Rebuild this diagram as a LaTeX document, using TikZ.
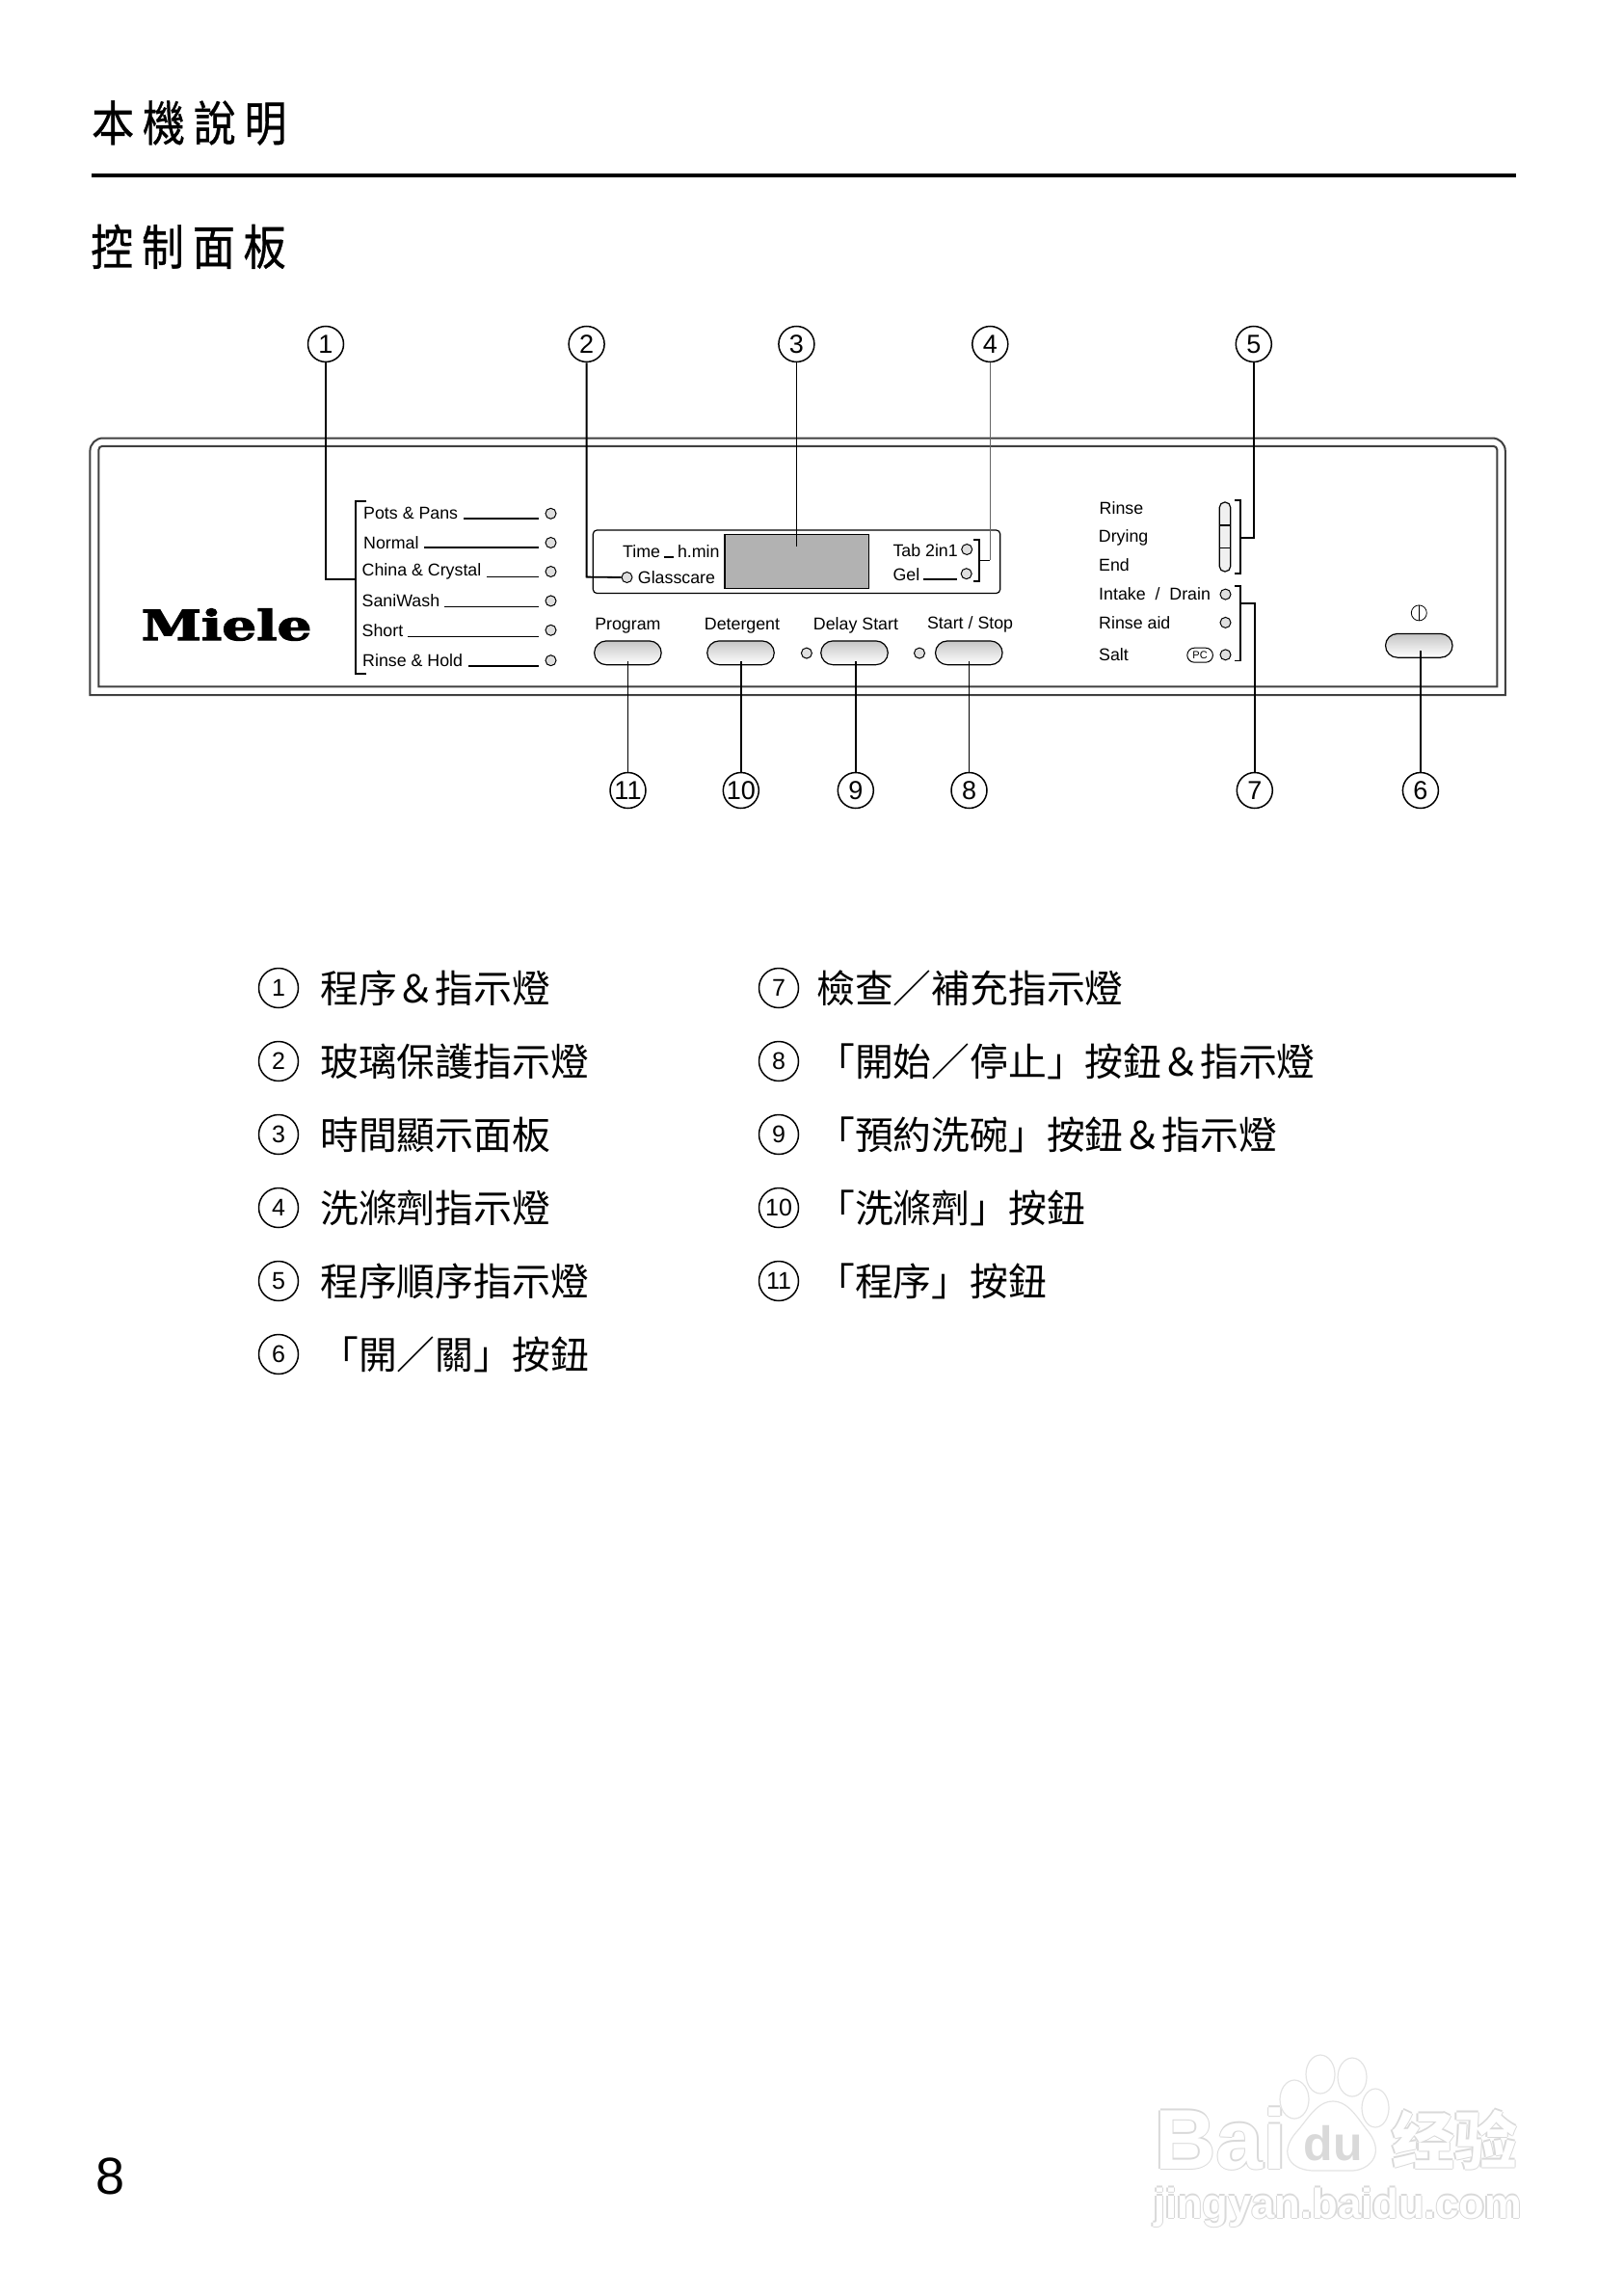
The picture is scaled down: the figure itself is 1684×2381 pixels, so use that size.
\documentclass[tikz,border=0pt]{standalone}
\usepackage{fontspec}
\setmainfont{Liberation Sans}
\newfontfamily\cjk{Noto Sans CJK TC}
\newfontfamily\cjkhead[FakeBold=0.7]{Noto Sans CJK TC}
\newfontfamily\logofont[BoldFeatures={FakeBold=2.5}]{DejaVu Serif}
\usetikzlibrary{arrows.meta,positioning,shapes.geometric,shapes.misc}

\tikzset{
  numcirc/.style={draw, circle, line width=1.5pt, minimum size=37pt, inner sep=0pt, font=\fontsize{27}{27}\selectfont},
  legcirc/.style={draw, circle, line width=1.5pt, minimum size=41pt, inner sep=0pt, font=\fontsize{25}{25}\selectfont},
  legtext/.style={anchor=west, inner sep=0pt, font=\cjk\fontsize{39.8}{40}\selectfont},
  headtext/.style={anchor=west, inner sep=0pt, xscale=0.88, font=\cjkhead\fontsize{50}{50}\selectfont},
  paneltext/.style={anchor=west, inner sep=0pt, font=\fontsize{17.8}{18}\selectfont},
  btntext/.style={inner sep=0pt, font=\fontsize{17.8}{18}\selectfont},
  led/.style={draw, circle, line width=1pt, fill=gray!25, minimum size=11pt, inner sep=0pt},
  btn/.style={draw, rounded rectangle, line width=1.2pt, top color=gray!45, bottom color=white, minimum width=69.5pt, minimum height=24.7pt, inner sep=0pt},
  lead/.style={line width=1.8pt},
  thinlead/.style={line width=0.8pt, black!60},
  rulerow/.style={line width=1.1pt},
  wmline/.style={draw=gray!22, fill=white, line width=1.2pt}
}

\begin{document}
\begin{tikzpicture}[x=1pt, y=-1pt]
  \useasboundingbox (0,0) rectangle (1684,2381);
  % Heading
  \node[headtext] (title) at (95,127.5) {本\kern10pt機\kern10pt說\kern10pt明};
  \coordinate (ruleL) at (95,182);
  \coordinate (ruleR) at (1573,182);
  \draw[line width=4pt] (ruleL) -- (ruleR);
  \node[headtext] (subtitle) at (94,255.8) {控\kern10pt制\kern10pt面\kern10pt板};

  % Panel frame
  \draw[line width=2pt, black!75] (93.4,721) -- (93.4,468) arc[start angle=180, end angle=270, radius=13.5] -- (1548.3,454.5) arc[start angle=270, end angle=360, radius=13.5] -- (1561.8,721) -- cycle;
  \draw[line width=2pt, black!75] (102.3,712.4) -- (102.3,466.8) arc[start angle=180, end angle=270, radius=4] -- (1549.4,462.8) arc[start angle=270, end angle=360, radius=4] -- (1553.4,712.4) -- cycle;
  \node[inner sep=0pt, xscale=1.31, font=\logofont\bfseries\fontsize{43}{43}\selectfont] (logo) at (235,648) {Miele};

  % Program list
  \foreach \nm/\txt/\tx/\yy/\xs/\ys in {pots/Pots \& Pans/377/532.8/481/538,
      normal/Normal/377/563/440/568,
      china/China \& Crystal/375.5/593/505/598.6,
      sani/SaniWash/375.5/623.4/461/629.7,
      short/Short/375.5/653.8/423/660.7} {
    \node[paneltext] (\nm) at (\tx,\yy) {\txt};
    \node[led] (led\nm) at (571.5,\yy) {};
    \coordinate (s\nm) at (\xs,\ys);
    \draw[rulerow] (s\nm) -- (559,\ys);
  }
  \node[paneltext] (rinsehold) at (376,685.5) {Rinse \& Hold};
  \node[led] (ledrinsehold) at (571.5,685.2) {};
  \coordinate (srinsehold) at (486,691.4);
  \draw[line width=2pt] (srinsehold) -- (559,691.4);

  % Display block
  \node[draw, line width=1.2pt, rounded corners=4pt, minimum width=422.4pt, minimum height=65.5pt, inner sep=0pt] (dispbox) at (826.5,582.75) {};
  \node[draw, line width=1.2pt, fill=black!30, minimum width=149.8pt, minimum height=56.2pt, inner sep=0pt] (screen) at (826.8,582.6) {};
  \node[paneltext] (timetxt) at (646,571.7) {Time};
  \node[paneltext] (hmin) at (702.8,571.7) {h.min};
  \coordinate (tdash) at (688.5,577.6);
  \draw[line width=2pt] (tdash) -- (699,577.6);
  \node[led] (ledglass) at (650.5,599) {};
  \node[paneltext] (glass) at (661.7,599) {Glasscare};
  \node[paneltext] (tab) at (926.3,571) {Tab 2in1};
  \node[paneltext] (gel) at (926.3,595.9) {Gel};
  \node[led] (ledtab) at (1003.2,570) {};
  \node[led] (ledgel) at (1002.7,595.2) {};
  \coordinate (gdash) at (957.7,601.4);
  \draw[line width=2pt] (gdash) -- (993.3,601.4);

  % Buttons
  \node[btn] (btnprog) at (651.4,677.3) {};
  \node[btn] (btndet) at (768.5,677.3) {};
  \node[btn] (btndelay) at (886.5,677.3) {};
  \node[btn] (btnstart) at (1005.3,677.3) {};
  \node[btn] (btnpower) at (1472.3,669.8) {};
  \node[btntext] (lprog) at (651.4,649.3) {Program};
  \node[btntext] (ldet) at (770,649.3) {Detergent};
  \node[btntext] (ldelay) at (888,649.3) {Delay Start};
  \node[btntext] (lstart) at (1006.6,647.6) {Start / Stop};
  \node[led] (leddelay) at (836.9,677.6) {};
  \node[led] (ledstart) at (954,677.6) {};
  \node[draw, circle, line width=0.8pt, minimum size=16pt, inner sep=0pt] (powersym) at (1472.3,635.9) {};
  \draw[line width=0.8pt] (powersym.north) -- (powersym.south);

  % Right block
  \node[paneltext] (rinse) at (1140.5,527.6) {Rinse};
  \node[paneltext] (drying) at (1139.7,558) {Drying};
  \node[paneltext] (endtxt) at (1140,586.5) {End};
  \node[paneltext] (intake) at (1140,616.6) {Intake\ \ /\ \ Drain};
  \node[paneltext] (rinseaid) at (1140,645.9) {Rinse aid};
  \node[paneltext] (salt) at (1140,679) {Salt};
  \node[draw, rounded rectangle, line width=1pt, minimum width=26.6pt, minimum height=15pt, inner sep=0pt, font=\fontsize{11}{11}\selectfont] (pcbadge) at (1245.1,679.7) {PC};
  \node[led] (ledintake) at (1271.5,616.6) {};
  \node[led] (ledaid) at (1271.5,645.9) {};
  \node[led] (ledsalt) at (1271.5,679.3) {};
  \node[draw, line width=1.2pt, rounded corners=5.5pt, fill=gray!12, minimum width=11.5pt, minimum height=72pt, inner sep=0pt] (pill) at (1271,557) {};
  \draw[line width=1.2pt] (1265.2,545) -- (1276.8,545);
  \draw[line width=0.8pt] (1265.2,568.3) -- (1276.8,568.3);

  % Brackets
  \draw[lead] (380.4,520) -- (369.3,520) -- (369.3,698.6) -- (380.4,698.6);
  \draw[lead] (1010,560.3) -- (1016.3,560.3) -- (1016.3,602.8) -- (1010,602.8);
  \draw[lead] (1281.4,519) -- (1286.7,519) -- (1286.7,595.2) -- (1281.4,595.2);
  \draw[lead] (1281.4,608) -- (1286.7,608) -- (1286.7,685.5) -- (1281.4,685.5);

  % Callouts top
  \node[numcirc] (c1) at (338,357) {1};
  \node[numcirc] (c2) at (608.6,357) {2};
  \node[numcirc] (c3) at (826.4,357) {3};
  \node[numcirc] (c4) at (1027.3,357) {4};
  \node[numcirc] (c5) at (1300.8,357) {5};
  % Callouts bottom
  \node[numcirc] (c11) at (651.5,820) {11};
  \node[numcirc] (c10) at (768.8,820) {10};
  \node[numcirc] (c9) at (887.8,820) {9};
  \node[numcirc] (c8) at (1005.5,820) {8};
  \node[numcirc] (c7) at (1301.8,820) {7};
  \node[numcirc] (c6) at (1473.9,820) {6};
  \coordinate (tip11) at (651.5,686);
  \coordinate (tip10) at (768.8,686);
  \coordinate (tip9) at (887.8,686);
  \coordinate (tip8) at (1005.5,686);
  \coordinate (tip6) at (1473.9,675);

  \draw[lead] (c1.south) -- (338,601) -- (369.3,601);
  \draw[lead] (c2.south) -- (608.6,598.6) -- (ledglass.west);
  \draw[lead] (c3.south) -- (826.4,567);
  \draw[thinlead] (c4.south) -- (1027.3,581.4);
  \draw[lead] (1016.3,581.4) -- (1027.3,581.4);
  \draw[lead] (c5.south) -- (1300.8,558) -- (1286.7,558);
  \draw[lead] (c7.north) -- (1301.8,626.2) -- (1286.7,626.2);
  \draw[lead] (c6.north) -- (tip6);
  \draw[lead] (c8.north) -- (tip8);
  \draw[lead] (c9.north) -- (tip9);
  \draw[lead] (c10.north) -- (tip10);
  \draw[lead] (c11.north) -- (tip11);

  % Legend
  \foreach \n/\yy/\txt in {1/1025/程序＆指示燈, 2/1101/玻璃保護指示燈, 3/1177/時間顯示面板,
      4/1253/洗滌劑指示燈, 5/1329/程序順序指示燈, 6/1405/「開／關」按鈕} {
    \node[legcirc] (leg\n) at (289,\yy) {\n};
    \node[legtext] (legt\n) at (332,\yy) {\txt};
  }
  \foreach \n/\yy/\txt in {7/1025/檢查／補充指示燈, 8/1101/「開始／停止」按鈕＆指示燈, 9/1177/「預約洗碗」按鈕＆指示燈,
      10/1253/「洗滌劑」按鈕, 11/1329/「程序」按鈕} {
    \node[legcirc] (leg\n) at (808,\yy) {\n};
    \node[legtext] (legt\n) at (847,\yy) {\txt};
  }

  % Page number
  \node[inner sep=0pt, font=\fontsize{54}{54}\selectfont] (pagenum) at (115,2257.5) {8};

  % Watermark
  \foreach \i/\dx/\dy in {a/-1.5/0, b/1.5/0, c/0/-1.5, d/0/1.5} {
    \node[inner sep=0pt, anchor=west, text=gray!30, font=\bfseries\fontsize{88}{88}\selectfont] (wma\i) at (1198+\dx,2219+\dy) {Bai};
    \node[inner sep=0pt, text=gray!30, font=\cjk\bfseries\fontsize{65}{65}\selectfont] (wmb\i) at (1509+\dx,2220+\dy) {经验};
    \node[inner sep=0pt, anchor=west, text=gray!30, font=\bfseries\fontsize{43.5}{43.5}\selectfont] (wmc\i) at (1197+\dx,2290+\dy) {jingyan.baidu.com};
  }
  \node[inner sep=0pt, anchor=west, text=white, font=\bfseries\fontsize{88}{88}\selectfont] (wma) at (1198,2219) {Bai};
  \node[inner sep=0pt, text=white, font=\cjk\bfseries\fontsize{65}{65}\selectfont] (wmb) at (1509,2220) {经验};
  \node[inner sep=0pt, anchor=west, text=white, font=\bfseries\fontsize{43.5}{43.5}\selectfont] (wmc) at (1197,2290) {jingyan.baidu.com};
  \draw[wmline] (1343,2178) ellipse[x radius=15, y radius=20];
  \draw[wmline] (1370,2152) ellipse[x radius=15, y radius=20];
  \draw[wmline] (1403,2155) ellipse[x radius=15, y radius=20];
  \draw[wmline] (1427,2187) ellipse[x radius=14, y radius=20];
  \draw[wmline] (1383,2180) .. controls (1400,2180) and (1410,2200) .. (1420,2212) .. controls (1438,2235) and (1420,2253) .. (1400,2252) .. controls (1390,2252) and (1376,2252) .. (1366,2252) .. controls (1340,2253) and (1325,2235) .. (1345,2212) .. controls (1356,2200) and (1366,2180) .. (1383,2180) -- cycle;
  \node[inner sep=0pt, text=gray!30, font=\bfseries\fontsize{50}{50}\selectfont] (wmdu) at (1383,2224) {du};
\end{tikzpicture}
\end{document}
